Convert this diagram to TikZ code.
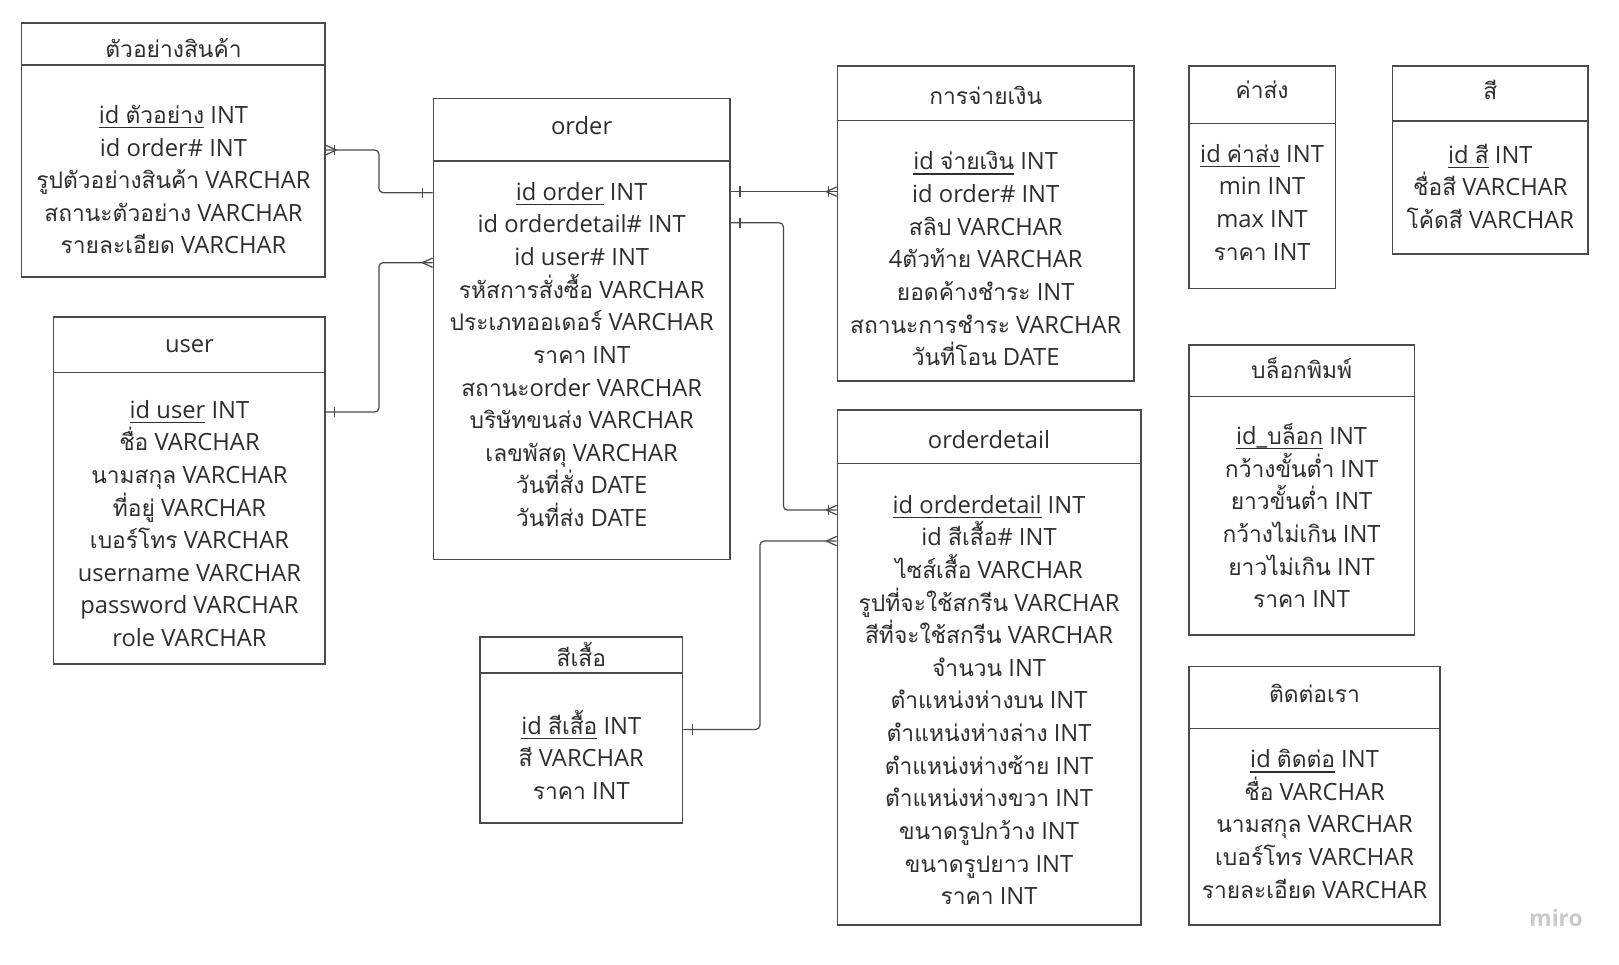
\documentclass[tikz,border=0pt]{standalone}
\usepackage{fontspec}
\setmainfont{Open Sans}
\newfontfamily\thai[Script=Thai,Scale=0.96]{Loma}
\usetikzlibrary{calc,fit}
\definecolor{txt}{HTML}{2E2E2E}
\definecolor{edge}{HTML}{4A4A4A}
\definecolor{wm}{HTML}{C8C8D0}
\newcommand\T[1]{{\thai #1}}
\newcommand\ul[1]{\setbox0\hbox{#1}\rlap{\rule[-2.4pt]{\wd0}{0.65pt}}\box0\relax}
\newcommand\rowstep{31.6}
\newcommand\tcy{0}
\tikzset{
  box/.style={draw=edge, line width=0.75pt, inner sep=0pt},
  conn/.style={draw=edge, line width=0.6pt},
  txtstyle/.style={text=txt, inner sep=0pt, font=\fontsize{11.5}{14}\selectfont, anchor=base},
  titletxt/.style={txtstyle},
  rowtxt/.style={txtstyle}
}
% title centre y is set in \tcy before each call
% #1 name #2 x1 #3 y1 #4 x2 #5 y2 #6 header y #7 title #8 first row centre y #9 rows
\newcommand\entity[9]{%
  \coordinate (#1-nw) at (#2,#3);
  \coordinate (#1-se) at (#4,#5);
  \node[box, fit=(#1-nw)(#1-se)] (#1) {};
  \draw[box] (#1.west |- 0,#6) -- (#1.east |- 0,#6);
  \node[titletxt] (#1-title) at ({(#2+#4)/2},{\tcy+8.5}) {#7};
  \foreach \t [count=\i] in {#9} {%
    \node[rowtxt] (#1-r\i) at ({(#2+#4)/2},{#8+8+(\i-1)*\rowstep}) {\t};
  }%
}
\newcommand\crow[2]{% crow's foot: #1 point on box edge, #2 = 1 if line leaves to the right, -1 to the left
  \draw[conn] ($(#1)+({#2*10},0)$) -- ($(#1)+(0,-4.5)$)
              ($(#1)+({#2*10},0)$) -- ($(#1)+(0,4.5)$);}
\newcommand\onebar[3]{% bar: #1 point, #2 direction, #3 distance
  \draw[conn] ($(#1)+({#2*#3},-5)$) -- ($(#1)+({#2*#3},5)$);}
\begin{document}
\begin{tikzpicture}[x=0.5pt,y=-0.5pt]
\useasboundingbox (0,0) rectangle (1568,934);
\fill[white] (0,0) rectangle (1568,934);

\renewcommand\tcy{47.5}
\entity{sample}{21}{22}{315}{268}{62.7}{\T{ตัวอย่างสินค้า}}{111.5}{
  {\ul{id \T{ตัวอย่าง}} INT},
  {id order\# INT},
  {\T{รูปตัวอย่างสินค้า} VARCHAR},
  {\T{สถานะตัวอย่าง} VARCHAR},
  {\T{รายละเอียด} VARCHAR}}

\renewcommand\tcy{333}
\entity{user}{52}{307}{315}{643}{360.6}{user}{397}{
  {\ul{id user} INT},
  {\T{ชื่อ} VARCHAR},
  {\T{นามสกุล} VARCHAR},
  {\T{ที่อยู่} VARCHAR},
  {\T{เบอร์โทร} VARCHAR},
  {username VARCHAR},
  {password VARCHAR},
  {role VARCHAR}}

\renewcommand\tcy{122}
\entity{order}{419.7}{95.5}{707}{542}{156}{order}{186}{
  {\ul{id order} INT},
  {id orderdetail\# INT},
  {id user\# INT},
  {\T{รหัสการสั่งซื้อ} VARCHAR},
  {\T{ประเภทออเดอร์} VARCHAR},
  {\T{ราคา} INT},
  {\T{สถานะ}order VARCHAR},
  {\T{บริษัทขนส่ง} VARCHAR},
  {\T{เลขพัสดุ} VARCHAR},
  {\T{วันที่สั่ง} DATE},
  {\T{วันที่ส่ง} DATE}}

\renewcommand\tcy{637}
\entity{shirt}{465}{617}{661}{797}{652}{\T{สีเสื้อ}}{703}{
  {\ul{id \T{สีเสื้อ}} INT},
  {\T{สี} VARCHAR},
  {\T{ราคา} INT}}

\renewcommand\tcy{92.5}
\entity{pay}{811}{64}{1098.3}{369}{116.5}{\T{การจ่ายเงิน}}{156.5}{
  {\ul{id \T{จ่ายเงิน}} INT},
  {id order\# INT},
  {\T{สลิป} VARCHAR},
  {4\T{ตัวท้าย} VARCHAR},
  {\T{ยอดค้างชำระ} INT},
  {\T{สถานะการชำระ} VARCHAR},
  {\T{วันที่โอน} DATE}}

\renewcommand\tcy{425.5}
\entity{detail}{811}{397}{1104.8}{896}{448.7}{orderdetail}{489}{
  {\ul{id orderdetail} INT},
  {id \T{สีเสื้อ}\# INT},
  {\T{ไซส์เสื้อ} VARCHAR},
  {\T{รูปที่จะใช้สกรีน} VARCHAR},
  {\T{สีที่จะใช้สกรีน} VARCHAR},
  {\T{จำนวน} INT},
  {\T{ตำแหน่งห่างบน} INT},
  {\T{ตำแหน่งห่างล่าง} INT},
  {\T{ตำแหน่งห่างซ้าย} INT},
  {\T{ตำแหน่งห่างขวา} INT},
  {\T{ขนาดรูปกว้าง} INT},
  {\T{ขนาดรูปยาว} INT},
  {\T{ราคา} INT}}

\renewcommand\tcy{86.5}
\entity{ship}{1151.3}{64}{1293.3}{279.3}{119.4}{\T{ค่าส่ง}}{149}{
  {\ul{id \T{ค่าส่ง}} INT},
  {min INT},
  {max INT},
  {\T{ราคา} INT}}

\renewcommand\tcy{88}
\entity{color}{1348.8}{64}{1538}{246}{117.2}{\T{สี}}{150}{
  {\ul{id \T{สี}} INT},
  {\T{ชื่อสี} VARCHAR},
  {\T{โค้ดสี} VARCHAR}}

\renewcommand\tcy{358.5}
\entity{block}{1151.3}{334.1}{1369.8}{615}{384.2}{\T{บล็อกพิมพ์}}{422.5}{
  {\ul{id\_\T{บล็อก}} INT},
  {\T{กว้างขั้นต่ำ} INT},
  {\T{ยาวขั้นต่ำ} INT},
  {\T{กว้างไม่เกิน} INT},
  {\T{ยาวไม่เกิน} INT},
  {\T{ราคา} INT}}

\renewcommand\tcy{671.5}
\entity{contact}{1151.6}{645.7}{1394.7}{896}{705.4}{\T{ติดต่อเรา}}{735.5}{
  {\ul{id \T{ติดต่อ}} INT},
  {\T{ชื่อ} VARCHAR},
  {\T{นามสกุล} VARCHAR},
  {\T{เบอร์โทร} VARCHAR},
  {\T{รายละเอียด} VARCHAR}}

% connector end points on the box borders
\coordinate (e1a) at (sample.east |- 0,145.3);
\coordinate (e1b) at (order.west |- 0,186.6);
\coordinate (e2a) at (user.east |- 0,399);
\coordinate (e2b) at (order.west |- 0,254.4);
\coordinate (e3a) at (order.east |- 0,185.6);
\coordinate (e3b) at (pay.west |- 0,185.6);
\coordinate (e4a) at (order.east |- 0,215.7);
\coordinate (e4b) at (detail.west |- 0,494);
\coordinate (e5a) at (shirt.east |- 0,706.4);
\coordinate (e5b) at (detail.west |- 0,524);

\draw[conn, rounded corners=2pt] (e1a) -- (367,145.3) -- (367,186.6) -- (e1b);
\crow{e1a}{1}\onebar{e1a}{1}{8}
\onebar{e1b}{-1}{9.5}

\draw[conn, rounded corners=2pt] (e2a) -- (367,399) -- (367,254.4) -- (e2b);
\onebar{e2a}{1}{8}
\crow{e2b}{-1}

\draw[conn] (e3a) -- (e3b);
\onebar{e3a}{1}{9}
\crow{e3b}{-1}\onebar{e3b}{-1}{8}

\draw[conn, rounded corners=2pt] (e4a) -- (758.7,215.7) -- (758.7,494) -- (e4b);
\onebar{e4a}{1}{9}
\crow{e4b}{-1}\onebar{e4b}{-1}{8}

\draw[conn, rounded corners=2pt] (e5a) -- (736,706.4) -- (736,524) -- (e5b);
\onebar{e5a}{1}{9}
\crow{e5b}{-1}

\node[text=wm, inner sep=0pt, font=\fontsize{11}{13}\selectfont\bfseries, anchor=base] (miro) at (1507,897) {miro};
\end{tikzpicture}
\end{document}
